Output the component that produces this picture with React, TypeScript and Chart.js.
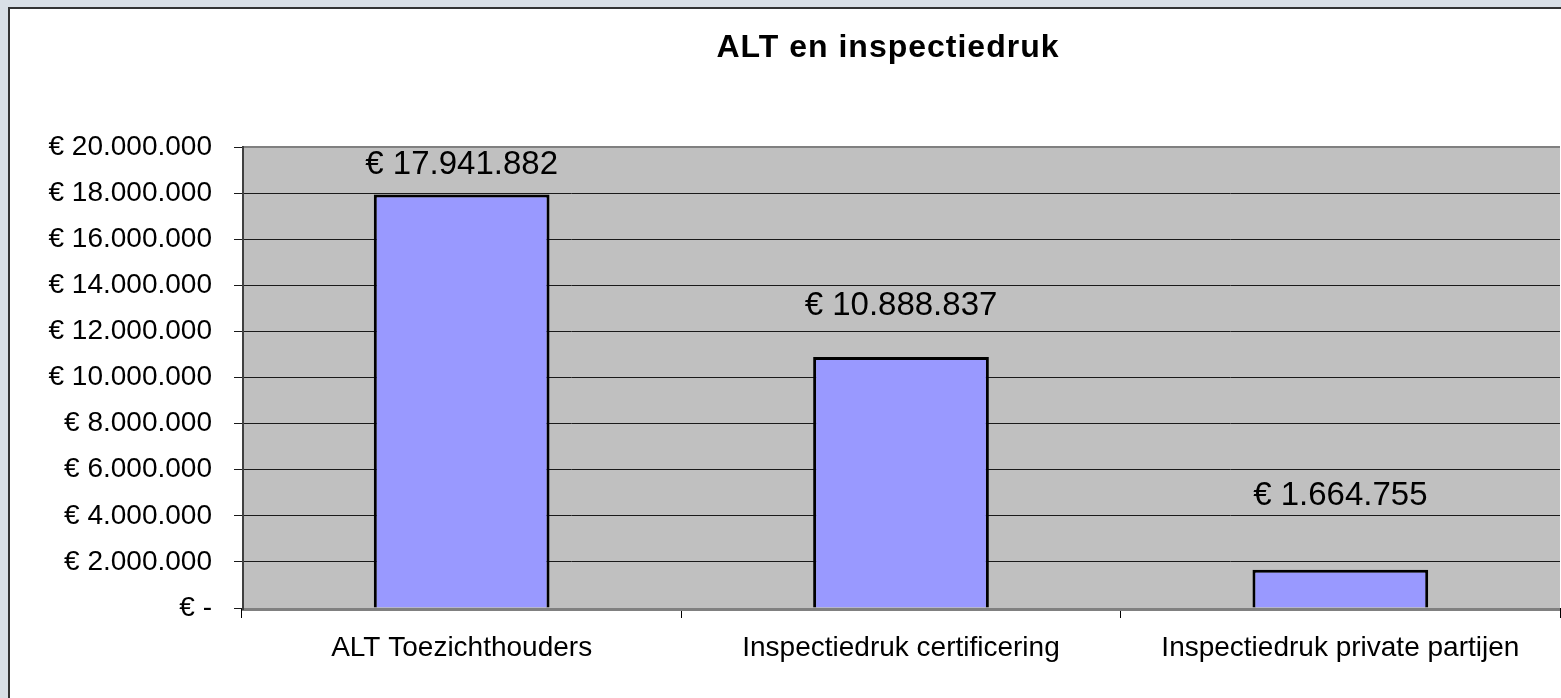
import React, { useEffect, useRef } from 'react';
import { Chart, registerables } from 'chart.js';

Chart.register(...registerables);

// ---- data ----
const chartTitle = 'ALT en inspectiedruk';
const categories = ['ALT Toezichthouders', 'Inspectiedruk certificering', 'Inspectiedruk private partijen'];
const values = [17941882, 10888837, 1664755];
const yMin = 0;
const yMax = 20000000;
const yStep = 2000000;

// ---- styling (not data) ----
const FONT = '"Liberation Sans", Arial, Helvetica, sans-serif';
const labelOffsets = [30, 51, 74];

function groupDigits(v: number): string {
  return String(Math.round(v)).replace(/\B(?=(\d{3})+(?!\d))/g, '.');
}
function euro(v: number): string {
  return v === 0 ? '€ -' : '€ ' + groupDigits(v);
}

const plotAreaPlugin = {
  id: 'plotArea',
  beforeDraw(chart: any) {
    const { ctx, chartArea: a } = chart;
    ctx.save();
    ctx.fillStyle = '#C0C0C0';
    ctx.fillRect(a.left, a.top, a.right - a.left, a.bottom - a.top);
    ctx.restore();
  },
  afterDatasetsDraw(chart: any) {
    const { ctx, chartArea: a } = chart;
    ctx.save();
    ctx.fillStyle = '#808080';
    ctx.fillRect(a.left, a.top - 1, a.right - a.left, 2);
    ctx.fillRect(a.left, a.bottom, a.right - a.left, 3);
    ctx.fillStyle = '#404040';
    ctx.fillRect(a.left, a.top - 1, 2, a.bottom - a.top + 3);
    ctx.restore();
  },
};

const labelsPlugin = {
  id: 'barLabels',
  afterDraw(chart: any) {
    const { ctx, chartArea: a } = chart;
    ctx.save();
    ctx.fillStyle = '#000';
    ctx.textAlign = 'center';
    ctx.textBaseline = 'middle';
    ctx.font = `33px ${FONT}`;
    const meta = chart.getDatasetMeta(0);
    meta.data.forEach((bar: any, i: number) => {
      ctx.fillText(euro(values[i]), bar.x, bar.y - labelOffsets[i]);
    });
    ctx.font = `bold 32px ${FONT}`;
    try {
      (ctx as any).letterSpacing = '1px';
    } catch (e) {
      /* ignore */
    }
    ctx.fillText(chartTitle, (a.left + a.right) / 2 - 13, 39);
    ctx.restore();
  },
};

export default function App() {
  const ref = useRef<HTMLCanvasElement>(null);
  useEffect(() => {
    document.body.style.margin = '0';
    document.body.style.background = '#D9DFE6';
    document.body.style.overflow = 'hidden';
    document.documentElement.style.overflow = 'hidden';
    const chart = new Chart(ref.current as HTMLCanvasElement, {
      type: 'bar',
      data: {
        labels: categories,
        datasets: [
          {
            data: values,
            backgroundColor: '#9999FF',
            borderColor: '#000000',
            borderWidth: 3,
            barPercentage: 0.4,
            categoryPercentage: 1,
          },
        ],
      },
      options: {
        responsive: false,
        animation: false,
        devicePixelRatio: 1,
        layout: { padding: { top: 138, right: 1, bottom: 0, left: 0 } },
        plugins: {
          legend: { display: false },
          title: { display: false },
          tooltip: { enabled: false },
        },
        scales: {
          x: {
            offset: true,
            border: { display: false },
            grid: {
              offset: true,
              drawOnChartArea: false,
              drawTicks: true,
              tickLength: 10,
              color: '#000',
            },
            ticks: {
              color: '#000',
              padding: 13,
              font: { family: FONT, size: 28 },
              maxRotation: 0,
              autoSkip: false,
            },
            afterFit(scale: any) {
              scale.height = 89;
            },
          },
          y: {
            min: yMin,
            max: yMax,
            border: { display: false },
            grid: {
              color: '#1a1a1a',
              lineWidth: 1,
              drawTicks: true,
              tickLength: 8,
            },
            ticks: {
              stepSize: yStep,
              color: '#000',
              padding: 22,
              font: { family: FONT, size: 28 },
              callback: (v: any) => euro(Number(v)),
            },
            afterFit(scale: any) {
              scale.width = 232;
            },
          },
        },
      },
      plugins: [plotAreaPlugin, labelsPlugin],
    });
    return () => chart.destroy();
  }, []);

  return (
    <div
      style={{
        position: 'absolute',
        left: 8,
        top: 7,
        width: 1600,
        height: 720,
        border: '2px solid #333',
        background: '#fff',
      }}
    >
      <canvas ref={ref} width={1551} height={688} style={{ display: 'block', width: 1551, height: 688 }} />
    </div>
  );
}
